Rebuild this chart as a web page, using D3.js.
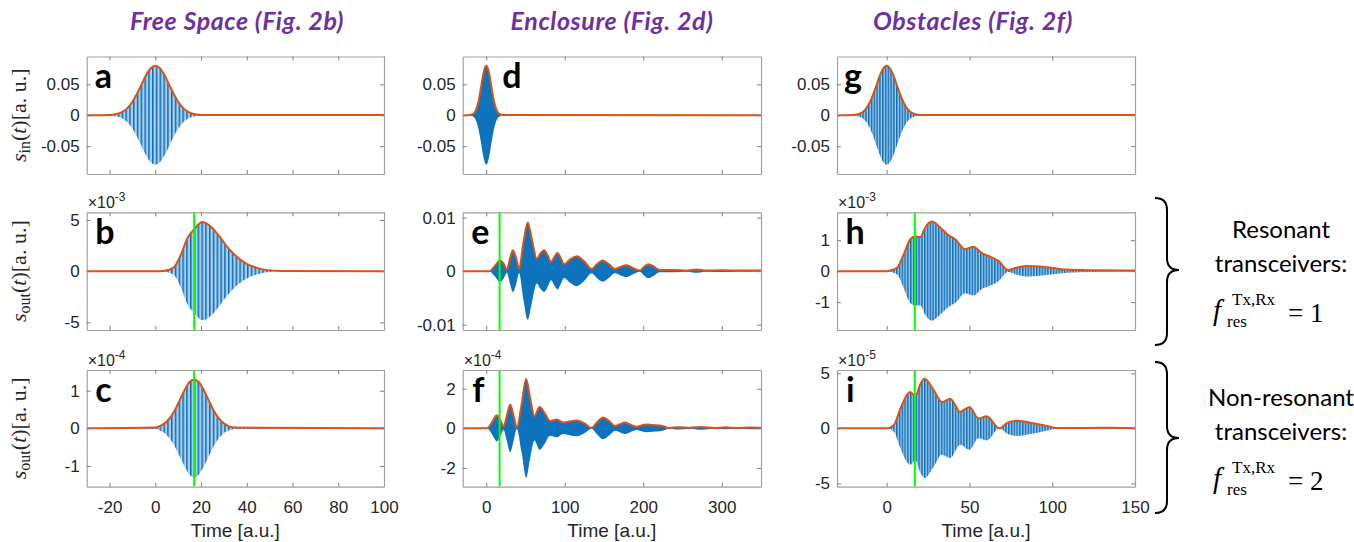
<!DOCTYPE html>
<html>
<head>
<meta charset="utf-8">
<script src="https://cdn.jsdelivr.net/npm/d3@7"></script>
<style>
body { margin: 0; background: #fff; }
</style>
</head>
<body>
<div id="chart"></div>
<script>
// column titles, panel letters and axis ticks
var col_titles = ["Free Space (Fig. 2b)", "Enclosure (Fig. 2d)", "Obstacles (Fig. 2f)"];
var panel_letters = ["a", "b", "c", "d", "e", "f", "g", "h", "i"];
var x_domains = [[-30, 100], [-30, 350], [-30, 150]];
var x_ticks = [[-20, 0, 20, 40, 60, 80, 100], [0, 100, 200, 300], [0, 50, 100, 150]];
var arrival_time = 17;

// input pulse envelope (a, d, g), amplitude [a.u.]
var in_time = [-30, -20, -18, -16, -14, -12, -10, -8, -6, -4, -2, 0, 2, 4, 6, 8, 10, 12, 14, 16, 18, 20, 350];
var in_env = [0, 0.0004, 0.0012, 0.0029, 0.0062, 0.0123, 0.0218, 0.0348, 0.050, 0.065, 0.076, 0.080, 0.076, 0.065, 0.050, 0.0348, 0.0218, 0.0123, 0.0062, 0.0029, 0.0012, 0.0004, 0];

// free space output envelopes (b: x1e-3, c: x1e-4)
var b_time = [-30, 0, 4, 8, 11, 14, 17, 20.5, 25, 28, 31, 34, 37, 40, 43, 46, 49, 55, 100];
var b_env = [0, 0, 0.05, 0.35, 1.5, 3.2, 4.1, 4.8, 4.2, 3.4, 2.5, 1.75, 1.15, 0.72, 0.43, 0.22, 0.1, 0.02, 0];
var c_time = [-30, 0, 2, 5, 8, 11, 13, 15, 17, 19, 21, 23, 26, 29, 32, 35, 100];
var c_env = [0, 0.02, 0.06, 0.18, 0.42, 0.79, 1.04, 1.23, 1.30, 1.23, 1.04, 0.79, 0.42, 0.18, 0.06, 0.02, 0];

// enclosure output envelopes (e: a.u., f: x1e-4)
var e_time = [-30, 4, 10, 17.8, 22, 26.3, 30, 33.9, 38, 41.9, 47, 52.9, 58, 64.4, 69, 73.7, 78, 82.6, 86.5, 90.6, 95, 99.1, 107, 115.2, 125, 134.3, 141, 148.2, 156, 163.9, 171, 178.8, 188, 195.7, 201, 206.3, 214, 221, 240, 255, 267.7, 280, 300, 320, 350];
var e_env = [0, 0, 0.0008, 0.0020, 0.0014, 0.0003, 0.0022, 0.0039, 0.0025, 0.0004, 0.0050, 0.0091, 0.0060, 0.0023, 0.0033, 0.0039, 0.0030, 0.0017, 0.0026, 0.0034, 0.0024, 0.0013, 0.0022, 0.0028, 0.0018, 0.0004, 0.0013, 0.0020, 0.0013, 0.0004, 0.0008, 0.0011, 0.0005, 0.0001, 0.0008, 0.0013, 0.0008, 0.0002, 0.0002, 0.0001, 0.0003, 0.0001, 0.00015, 0.0001, 0.0001];
var f_time = [-30, 0, 4, 8, 13.6, 18, 22, 26, 30.5, 35, 39, 45, 50.8, 56, 61.4, 67.8, 74, 81.3, 89.8, 98.3, 106, 115.2, 125, 134.3, 141, 149, 157, 164, 170, 176.6, 184, 191.5, 198, 204.2, 212, 221, 228, 232, 245, 260, 275, 290, 305, 320, 335, 350];
var f_env = [0, 0, 0.1, 0.35, 0.66, 0.4, 0.08, 0.6, 1.21, 0.6, 0.03, 1.2, 2.5, 1.5, 0.62, 1.08, 0.8, 0.37, 0.45, 0.29, 0.35, 0.40, 0.25, 0.02, 0.3, 0.55, 0.35, 0.12, 0.2, 0.29, 0.18, 0.08, 0.15, 0.2, 0.17, 0.15, 0.08, 0.02, 0.06, 0.03, 0.07, 0.02, 0.05, 0.02, 0.04, 0.03];

// obstacles output envelopes (h: x1e-3, i: x1e-5)
var h_time = [-30, 0, 2.2, 6.3, 10.3, 14.3, 17.3, 20.3, 23.3, 27.3, 32.3, 37.3, 41.4, 47.4, 52.4, 57.5, 62.5, 67.5, 73.5, 77.5, 84.6, 92.6, 100.6, 108.6, 124.7, 150];
var h_env = [0, 0, 0.02, 0.11, 0.54, 1.03, 1.12, 1.10, 1.41, 1.60, 1.41, 1.16, 1.03, 0.71, 0.79, 0.58, 0.47, 0.33, 0.03, 0.10, 0.17, 0.15, 0.10, 0.05, 0.03, 0.02];
var i_time = [-30, 0, 4.2, 8.3, 12.3, 14.3, 17.3, 20.3, 22.9, 28.3, 33.4, 38.4, 44.4, 50, 55.4, 60.4, 68.1, 72.5, 78.5, 88.6, 96.6, 102.6, 115, 125, 132.7, 140, 150];
var i_env = [0, 0, 0.28, 1.8, 3.05, 3.3, 2.9, 4.0, 4.5, 3.5, 2.4, 2.7, 1.5, 1.95, 0.9, 1.1, 0.0, 0.47, 0.69, 0.47, 0.22, 0.03, 0.03, 0.04, 0.06, 0.03, 0.02];

// y ranges, y ticks and exponents per panel (a..i)
var y_limits = [0.095, 5.75, 1.55, 0.095, 0.011, 2.95, 0.095, 1.9, 5.3];
var y_ticks = [[-0.05, 0, 0.05], [-5, 0, 5], [-1, 0, 1], [-0.05, 0, 0.05], [-0.01, 0, 0.01], [-2, 0, 2], [-0.05, 0, 0.05], [-1, 0, 1], [-5, 0, 5]];
var y_exponents = [null, "-3", "-4", null, null, "-4", null, "-3", "-5"];
var y_label_subs = ["in", "out", "out"];

var side_lines = [["Resonant", "transceivers:"], ["Non-resonant", "transceivers:"]];
var side_values = ["1", "2"];

// layout
var col_x = [[86.7, 384], [462.7, 761], [837, 1135]];
var row_y = [[56.5, 174], [212.3, 330], [370, 486.7]];
var letter_dx = [[8, 8.5, 8.5], [39.5, 8.5, 9.5], [7, 8.5, 9]];
var title_x = [237, 612, 973];

var orange = "#D95319", blue = "#0072BD", green = "#00FF00";
var sans = "'Liberation Sans', Arial, sans-serif";
var calib = "Lato, 'Open Sans', sans-serif";
var serif = "'Liberation Serif', 'Times New Roman', serif";

var svg = d3.select("#chart").append("svg")
    .attr("width", 1354).attr("height", 542)
    .style("background", "#fff");

var defs = svg.append("defs");
function make_stripes(id, w) {
    var p = defs.append("pattern").attr("id", id)
        .attr("patternUnits", "userSpaceOnUse")
        .attr("width", w).attr("height", 10);
    p.append("rect").attr("width", w).attr("height", 10).attr("fill", "#a9cdeb");
    p.append("rect").attr("width", 1.5).attr("height", 10).attr("fill", "#0a6fba");
}
make_stripes("stripe0", 3.8);
make_stripes("stripe2", 2.8);
var col_fill = ["url(#stripe0)", "#0d73bd", "url(#stripe2)"];

var series = [
    [in_time, in_env], [b_time, b_env], [c_time, c_env],
    [in_time, in_env], [e_time, e_env], [f_time, f_env],
    [in_time, in_env], [h_time, h_env], [i_time, i_env]
];

function fmt(d) { return d === 0 ? "0" : String(d); }

series.forEach(function (s, k) {
    var col = Math.floor(k / 3), row = k % 3;
    var x0 = col_x[col][0], x1 = col_x[col][1];
    var y0 = row_y[row][0], y1 = row_y[row][1];
    var x = d3.scaleLinear().domain(x_domains[col]).range([x0, x1]);
    var y = d3.scaleLinear().domain([-y_limits[k], y_limits[k]]).range([y1, y0]);
    var pts = s[0].map(function (t, j) { return [t, s[1][j]]; });

    var g = svg.append("g");
    defs.append("clipPath").attr("id", "clip" + k)
        .append("rect").attr("x", x0).attr("y", y0).attr("width", x1 - x0).attr("height", y1 - y0);
    var plot = g.append("g").attr("clip-path", "url(#clip" + k + ")");

    var area = d3.area()
        .x(function (d) { return x(d[0]); })
        .y0(function (d) { return y(-d[1]); })
        .y1(function (d) { return y(d[1]); })
        .curve(d3.curveMonotoneX);
    plot.append("path").datum(pts).attr("d", area).attr("fill", col_fill[col]);

    var line = d3.line()
        .x(function (d) { return x(d[0]); })
        .y(function (d) { return y(d[1]); })
        .curve(d3.curveMonotoneX);
    plot.append("path").datum(pts).attr("d", line)
        .attr("fill", "none").attr("stroke", orange).attr("stroke-width", 2);

    if (row > 0) {
        plot.append("line")
            .attr("x1", x(arrival_time)).attr("x2", x(arrival_time))
            .attr("y1", y0).attr("y2", y1)
            .attr("stroke", green).attr("stroke-width", 2);
    }

    // box with inward ticks on all four sides
    var axes = [
        [d3.axisBottom(x).tickValues(x_ticks[col]).tickFormat(row == 2 ? fmt : ""), y1, 0],
        [d3.axisTop(x).tickValues(x_ticks[col]).tickFormat(""), y0, 0],
        [d3.axisLeft(y).tickValues(y_ticks[k]).tickFormat(fmt), 0, x0],
        [d3.axisRight(y).tickValues(y_ticks[k]).tickFormat(""), 0, x1]
    ];
    axes.forEach(function (a, n) {
        var ax = g.append("g")
            .attr("transform", "translate(" + a[2] + "," + a[1] + ")")
            .call(a[0].tickSizeInner(-4).tickSizeOuter(0).tickPadding(n == 0 ? 14 : 7));
        ax.select(".domain").attr("stroke", "#a0a0a0").attr("stroke-width", 1.2);
        ax.selectAll(".tick line").attr("stroke", "#808080");
        ax.selectAll("text").attr("fill", "#262626")
            .style("font-family", sans).style("font-size", "17px");
    });

    if (y_exponents[k]) {
        var ex = g.append("text").attr("x", x0 + 1).attr("y", y0 - 4.5)
            .attr("fill", "#262626").style("font-family", sans).style("font-size", "16px");
        ex.append("tspan").text("\u00d710");
        ex.append("tspan").attr("dy", -7).style("font-size", "12px").text(y_exponents[k]);
    }

    g.append("text")
        .attr("x", x0 + letter_dx[col][row]).attr("y", y0 + 31.5)
        .attr("fill", "#000")
        .style("font-family", calib).style("font-weight", "bold").style("font-size", "34px")
        .text(panel_letters[k]);

    if (row == 2) {
        g.append("text").attr("x", (x0 + x1) / 2).attr("y", 536.5)
            .attr("text-anchor", "middle").attr("fill", "#262626")
            .style("font-family", sans).style("font-size", "19px")
            .text("Time [a.u.]");
    }
    if (row == 0) {
        svg.append("text").attr("x", title_x[col]).attr("y", 30)
            .attr("text-anchor", "middle").attr("fill", "#7030A0")
            .style("font-family", calib).style("font-weight", "bold").style("font-style", "italic")
            .style("font-size", "25px").style("letter-spacing", "0.6px")
            .text(col_titles[col]);
    }
    if (col == 0) {
        var yl = svg.append("text")
            .attr("transform", "translate(26," + ((y0 + y1) / 2) + ") rotate(-90)")
            .attr("text-anchor", "middle").attr("fill", "#262626")
            .style("font-family", serif).style("font-size", "22px");
        yl.append("tspan").style("font-style", "italic").text("s");
        yl.append("tspan").attr("dy", 4).style("font-size", "16px").text(y_label_subs[row]);
        yl.append("tspan").attr("dy", -4).text("(");
        yl.append("tspan").style("font-style", "italic").text("t");
        yl.append("tspan").text(")[a. u.]");
    }
});

// braces and side notes
function brace(xl, yt, yb, ym, w) {
    var xm = xl + w * 0.5, r = 12;
    return "M" + xl + "," + yt +
        " Q" + xm + "," + yt + " " + xm + "," + (yt + r) +
        " L" + xm + "," + (ym - r) +
        " Q" + xm + "," + ym + " " + (xl + w) + "," + ym +
        " Q" + xm + "," + ym + " " + xm + "," + (ym + r) +
        " L" + xm + "," + (yb - r) +
        " Q" + xm + "," + yb + " " + xl + "," + yb;
}
[[198, 345, 270], [362, 513, 438]].forEach(function (b, n) {
    svg.append("path").attr("d", brace(1155, b[0], b[1], b[2], 24))
        .attr("fill", "none").attr("stroke", "#000").attr("stroke-width", 2);
    var dy = n * 168;
    svg.append("text").attr("x", 1281).attr("y", 238 + dy)
        .attr("text-anchor", "middle").style("font-family", calib).style("font-size", "24px")
        .text(side_lines[n][0]);
    svg.append("text").attr("x", 1281).attr("y", 272 + dy)
        .attr("text-anchor", "middle").style("font-family", calib).style("font-size", "24px")
        .text(side_lines[n][1]);
    svg.append("text").attr("x", 1213).attr("y", 320 + dy)
        .style("font-family", serif).style("font-style", "italic").style("font-size", "29px").text("f");
    svg.append("text").attr("x", 1227).attr("y", 327 + dy)
        .style("font-family", serif).style("font-size", "17px").text("res");
    svg.append("text").attr("x", 1232).attr("y", 305 + dy)
        .style("font-family", serif).style("font-size", "17px").text("Tx,Rx");
    svg.append("text").attr("x", 1288).attr("y", 322 + dy)
        .style("font-family", serif).style("font-size", "27px").text("= " + side_values[n]);
});
</script>
</body>
</html>
